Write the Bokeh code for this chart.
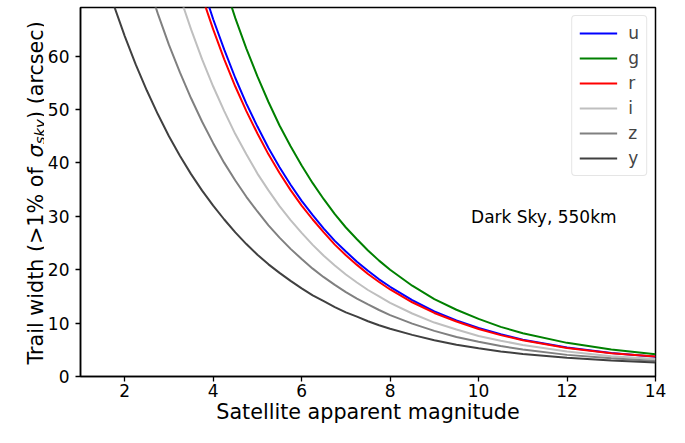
import math
import numpy as np
from bokeh.plotting import figure
from bokeh.layouts import row
from bokeh.models import Range1d, FixedTicker, Label, ColumnDataSource
from bokeh.embed import file_html
from bokeh.resources import INLINE

# Satellite apparent magnitude samples
mag = [1.5, 1.75, 2.0, 2.25, 2.5, 2.75, 3.0, 3.25, 3.5, 3.75, 4.0, 4.25, 4.5, 4.75,
       5.0, 5.25, 5.5, 5.75, 6.0, 6.25, 6.5, 6.75, 7.0, 7.25, 7.5, 7.75, 8.0,
       8.5, 9.0, 9.5, 10.0, 10.5, 11.0, 12.0, 13.0, 14.0]

# Trail width (arcsec) per filter (None = above the plot)
u_vals = [None] * 8 + [80.1, 73.2, 66.9, 61.2, 55.9, 51.1, 46.8, 42.8, 39.2, 35.9, 32.9, 30.2,
                       27.7, 25.4, 23.4, 21.5, 19.8, 18.2, 16.8, 14.3, 12.2, 10.5, 9.1, 7.9,
                       6.9, 5.45, 4.4, 3.7]
g_vals = [None] * 10 + [80.4, 73.5, 67.1, 61.4, 56.2, 51.4, 47.0, 43.1, 39.5, 36.2, 33.2, 30.4,
                        27.9, 25.7, 23.6, 21.7, 20.0, 17.0, 14.5, 12.5, 10.8, 9.3, 8.1, 6.3,
                        5.05, 4.15]
r_vals = [None] * 8 + [77.8, 71.1, 65.0, 59.4, 54.3, 49.7, 45.5, 41.6, 38.1, 34.9, 32.0, 29.4,
                       27.0, 24.7, 22.7, 20.9, 19.2, 17.7, 16.3, 13.9, 11.9, 10.3, 8.9, 7.75,
                       6.8, 5.35, 4.35, 3.75]
i_vals = [None] * 6 + [77.9, 71.1, 65.0, 59.4, 54.3, 49.7, 45.4, 41.6, 38.0, 34.85, 31.9, 29.3,
                       26.9, 24.65, 22.6, 20.8, 19.1, 17.6, 16.2, 15.0, 13.8, 11.8, 10.1, 8.8,
                       7.6, 6.7, 5.9, 4.7, 3.8, 3.3]
z_vals = [None] * 3 + [81.1, 74.2, 67.9, 62.1, 56.9, 52.1, 47.7, 43.7, 40.0, 36.7, 33.65, 30.9,
                       28.3, 26.0, 23.9, 22.0, 20.2, 18.6, 17.15, 15.8, 14.6, 13.5, 12.45, 11.5,
                       9.9, 8.55, 7.4, 6.5, 5.7, 5.05, 4.05, 3.4, 2.9]
y_vals = [76.0, 69.6, 63.75, 58.4, 53.55, 49.1, 45.0, 41.3, 37.9, 34.8, 32.0, 29.4, 27.0, 24.8,
          22.8, 21.0, 19.4, 17.9, 16.5, 15.2, 14.1, 13.0, 12.0, 11.2, 10.35, 9.6, 8.95, 7.8,
          6.8, 5.95, 5.3, 4.7, 4.2, 3.5, 3.0, 2.6]

bands = ["u", "g", "r", "i", "z", "y"]
series = [u_vals, g_vals, r_vals, i_vals, z_vals, y_vals]
colors = ["#0000ff", "#008000", "#ff0000", "#bfbfbf", "#808080", "#404040"]

x_ticks = [2, 4, 6, 8, 10, 12, 14]
y_ticks = [0, 10, 20, 30, 40, 50, 60]

FONT = "DejaVu Sans"
LEFT_W = 44
TOTAL_W, TOTAL_H = 669, 427

# ---- main plot ----
p = figure(width=TOTAL_W - LEFT_W, height=TOTAL_H, output_backend="svg", toolbar_location=None,
           x_range=Range1d(1, 14), y_range=Range1d(0, 69.1),
           min_border_left=78 - LEFT_W, min_border_right=14, min_border_top=7, min_border_bottom=51)
p.grid.visible = False
p.background_fill_color = "white"
p.border_fill_color = "white"
p.outline_line_color = "black"
p.outline_line_width = 1.5

for name, vals, col in zip(bands, series, colors):
    src = ColumnDataSource(dict(x=np.array(mag, dtype=float), y=np.array(vals, dtype=float)))
    p.line("x", "y", source=src, line_color=col, line_width=2, legend_label=name)

for ax, ticks in ((p.xaxis[0], x_ticks), (p.yaxis[0], y_ticks)):
    ax.ticker = FixedTicker(ticks=ticks)
    ax.minor_tick_line_color = None
    ax.major_tick_in = 0
    ax.major_tick_out = 5
    ax.major_tick_line_width = 1.3
    ax.major_tick_line_color = "black"
    ax.axis_line_width = 1.5
    ax.axis_line_color = "black"
    ax.major_label_text_font = FONT
    ax.major_label_text_font_size = "17px"
    ax.major_label_text_color = "black"
    ax.major_label_standoff = 6

xa = p.xaxis[0]
xa.major_label_standoff = 2
xa.axis_label = "Satellite apparent magnitude"
xa.axis_label_text_font = FONT
xa.axis_label_text_font_size = "20.7px"
xa.axis_label_text_font_style = "normal"
xa.axis_label_text_color = "black"
xa.axis_label_standoff = 0

p.add_layout(Label(x=9.83, y=29.8, text="Dark Sky, 550km",
                   text_font=FONT, text_font_size="17px", text_align="left",
                   text_baseline="alphabetic", text_color="black"))

lg = p.legend[0]
lg.location = "top_right"
lg.margin = 8
lg.padding = 7
lg.spacing = 5
lg.glyph_width = 38
lg.glyph_height = 20
lg.label_height = 20
lg.label_width = 10
lg.label_standoff = 11
lg.label_text_font = FONT
lg.label_text_font_size = "17px"
lg.border_line_color = "#cccccc"
lg.border_line_width = 1
lg.background_fill_alpha = 0.8
if "border_radius" in lg.properties():
    lg.border_radius = 4

# ---- left strip holding the y-axis title (with subscript) ----
# (its frame is aligned with the main frame; offsets are from the frame bottom)
q = figure(width=LEFT_W, height=TOTAL_H, output_backend="svg", toolbar_location=None,
           x_axis_type=None, y_axis_type=None, min_border=0,
           x_range=Range1d(0, 1), y_range=Range1d(0, 1))
q.outline_line_color = None
q.background_fill_color = "white"
q.border_fill_color = "white"

base_x = 35
y0 = 12.0
pieces = [
    ("Trail width (>1% of", y0, base_x, "20.7px", "normal"),
    ("σ", y0 + 207.0, base_x, "20.7px", "italic"),
    ("sky", y0 + 220.3, base_x + 4, "14.8px", "italic"),
    (") (arcsec)", y0 + 245.5, base_x, "20.7px", "normal"),
]
for txt, yy, xx, fs, st in pieces:
    q.add_layout(Label(x=xx, y=yy, x_units="screen", y_units="screen", text=txt,
                       angle=math.pi / 2, text_font=FONT, text_font_size=fs,
                       text_font_style=st, text_align="left", text_baseline="alphabetic",
                       text_color="black"))

layout = row(q, p)
open("out.html", "w").write(file_html(layout, INLINE))
